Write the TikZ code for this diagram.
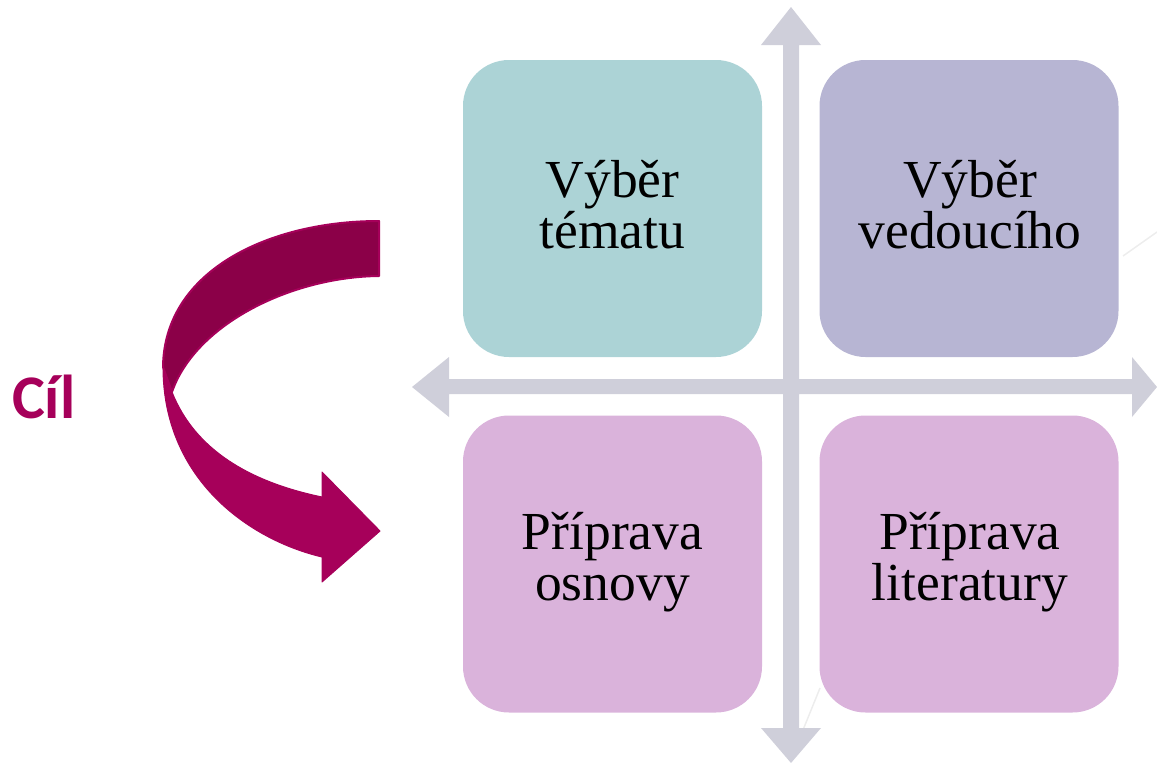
\documentclass[tikz,border=0pt]{standalone}
\usepackage{fontspec}
\setmainfont{Liberation Serif}
\newfontfamily\cilfont{Carlito}
\definecolor{teal1}{HTML}{ACD3D6}
\definecolor{lav1}{HTML}{B7B5D3}
\definecolor{pink1}{HTML}{DAB3DB}
\definecolor{cross}{HTML}{CFCFDA}
\definecolor{mag}{HTML}{A6005A}
\definecolor{magdark}{HTML}{8B0048}
\definecolor{faint}{HTML}{EDEDED}
\tikzset{
  quad/.style={rounded corners=46pt, minimum width=299pt, minimum height=297pt, inner sep=0pt},
  lbl/.style={font=\fontsize{53.5}{51}\selectfont, align=center, anchor=base, text=black},
  crossfill/.style={fill=cross, draw=none},
}
\begin{document}
\begin{tikzpicture}[x=1pt,y=-1pt]
\useasboundingbox (0,0) rectangle (1157,763);
% faint background lines
\draw[faint, line width=1.5pt] (803,730) -- (820,688);
\draw[faint, line width=1.5pt] (1123,256) -- (1157,232);
% cross arrows
\fill[crossfill] (783,45) -- (761,45) -- (791,7) -- (821,45) -- (799,45)
  -- (799,379) -- (1132,379) -- (1132,357) -- (1157,387) -- (1132,417) -- (1132,394)
  -- (799,394) -- (799,728) -- (821,728) -- (791,763) -- (761,728) -- (783,728)
  -- (783,394) -- (449,394) -- (449,417) -- (412,387) -- (449,357) -- (449,379)
  -- (783,379) -- cycle;
% boxes
\node[quad, fill=teal1] (tl) at (612.5,208.5) {};
\node[quad, fill=lav1]  (tr) at (969,208.5) {};
\node[quad, fill=pink1] (bl) at (612.5,564) {};
\node[quad, fill=pink1] (br) at (969,564) {};
\node[lbl] (tlt) at (612.5,248) {Výběr\\tématu};
\node[lbl] (trt) at (970,248) {Výběr\\vedoucího};
\node[lbl] (blt) at (612.5,600) {Příprava\\osnovy};
\node[lbl] (brt) at (970,600) {Příprava\\literatury};
% curved arrow: back (dark) part
\path[fill=magdark, draw=mag, line width=2pt, line join=round]
  (379,221) .. controls (270,221) and (164,270) .. (163,367)
  -- (172,392) .. controls (195,325) and (290,277) .. (379,276) -- cycle;
% front part with head
\path[fill=mag, draw=mag, line width=1pt, line join=round]
  (163,367) .. controls (163,480) and (250,540) .. (322,557)
  -- (322,582) -- (380,531) -- (322,472) -- (322,497)
  .. controls (250,482) and (195,450) .. (172,392) -- cycle;
\node[font=\cilfont\bfseries\fontsize{62}{64}\selectfont, text=mag, anchor=base west, inner sep=0pt] (cil) at (12,418) {Cíl};
\end{tikzpicture}
\end{document}
